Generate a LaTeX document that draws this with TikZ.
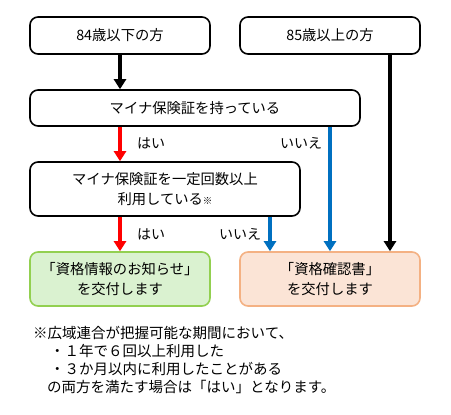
\documentclass[tikz,border=0pt]{standalone}
\usepackage{fontspec}
\setmainfont{Noto Sans CJK JP}
\usetikzlibrary{arrows.meta}
\definecolor{myred}{RGB}{255,0,0}
\definecolor{myblue}{RGB}{0,112,192}
\definecolor{greenfill}{RGB}{218,242,208}
\definecolor{greenline}{RGB}{146,208,80}
\definecolor{orfill}{RGB}{251,228,214}
\definecolor{orline}{RGB}{244,177,131}
\tikzset{
  box/.style={draw=black, line width=1.6pt, rounded corners=8pt, align=center, font=\fontsize{14.3}{19.5}\selectfont, inner sep=0pt},
  gbox/.style={box, draw=greenline, fill=greenfill},
  obox/.style={box, draw=orline, fill=orfill},
  arr/.style={line width=3.2pt, -{Triangle[width=12pt,length=10pt]}},
  lbl/.style={font=\fontsize{14}{15}\selectfont, inner sep=0pt},
  note/.style={font=\fontsize{14.5}{16}\selectfont, anchor=west, inner sep=0pt}
}
\begin{document}
\begin{tikzpicture}[x=1pt,y=-1pt]
\useasboundingbox (0,0) rectangle (451,415);
\node[box, minimum width=180pt, minimum height=37pt] (a) at (120,35.5) {84歳以下の方};
\node[box, minimum width=180pt, minimum height=37pt] (b) at (330,35.5) {85歳以上の方};
\node[box, minimum width=330pt, minimum height=36pt] (c) at (195,108) {マイナ保険証を持っている};
\node[box, minimum width=270pt, minimum height=54pt] (d) at (165,189) {マイナ保険証を一定回数以上\\利用している{\fontsize{9.5}{10}\selectfont ※}};
\node[gbox, minimum width=180pt, minimum height=54pt] (g) at (120,279) {「資格情報のお知らせ」\\を交付します};
\node[obox, minimum width=180pt, minimum height=54pt] (o) at (330,279) {「資格確認書」\\を交付します};
\draw[arr] (a.south) -- (a.south |- c.north);
\draw[arr, myred] (c.south) ++(-75,0) coordinate (c1) -- (c1 |- d.north);
\draw[arr, myred] (d.south) ++(-45,0) coordinate (d1) -- (d1 |- g.north);
\draw[arr, myblue] (c.south) ++(135,0) coordinate (c2) -- (c2 |- o.north);
\draw[arr, myblue] (d.south) ++(105,0) coordinate (d2) -- (d2 |- o.north);
\draw[arr] (b.south) ++(60,0) coordinate (b1) -- (b1 |- o.north);
\node[lbl] (l1) at (151,143) {はい};
\node[lbl] (l2) at (301,143) {いいえ};
\node[lbl] (l3) at (151,234) {はい};
\node[lbl] (l4) at (240,234) {いいえ};
\node[note] (n1) at (33,333) {※広域連合が把握可能な期間において、};
\node[note] (n2) at (50,351) {・１年で６回以上利用した};
\node[note] (n3) at (50,369) {・３か月以内に利用したことがある};
\node[note] (n4) at (47,387) {の両方を満たす場合は「はい」となります。};
\end{tikzpicture}
\end{document}
